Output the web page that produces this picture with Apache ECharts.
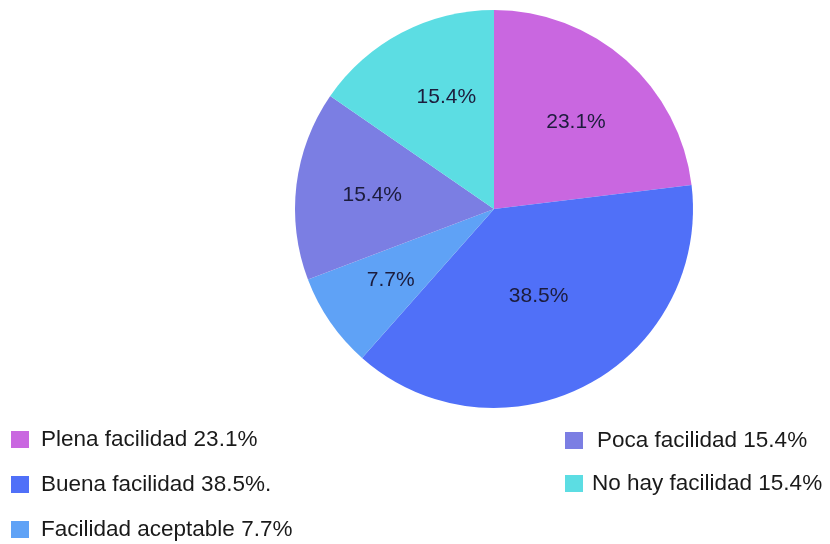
<!DOCTYPE html>
<html>
<head>
<meta charset="utf-8">
<script src="https://cdn.jsdelivr.net/npm/echarts@6/dist/echarts.min.js"></script>
<style>html,body{margin:0;padding:0;background:#fff;}#c{width:830px;height:544px;}</style>
</head>
<body>
<div id="c"></div>
<script>
const categories = ["Plena facilidad 23.1%", "Buena facilidad 38.5%.", "Facilidad aceptable 7.7%", "Poca facilidad 15.4%", "No hay facilidad 15.4%"];
const values = [23.1, 38.5, 7.7, 15.4, 15.4];
const colors = ["#C967E0", "#5070F8", "#5FA2F6", "#7B7EE3", "#5CDDE3"];
const labelNudge = [[14, -10], [-3, -4], [-19, 13], [-20, -1], [0, -21]];

const chart = echarts.init(document.getElementById('c'));
const font = 'Liberation Sans, Arial, sans-serif';
chart.setOption({
  animation: false,
  color: colors,
  legend: [
    {
      orient: 'vertical', left: 11, top: 428, height: 115, padding: 0,
      itemWidth: 18, itemHeight: 17, itemGap: 22,
      icon: 'rect',
      data: categories.slice(0, 3),
      textStyle: { fontSize: 22.5, color: '#1a1a1a', fontFamily: font, padding: [0, 0, 0, 7] }
    },
    {
      orient: 'vertical', left: 565, top: 429, height: 115, padding: 0,
      itemWidth: 18, itemHeight: 17, itemGap: 20,
      icon: 'rect',
      data: [
        { name: categories[3] },
        { name: categories[4], textStyle: { padding: [0, 0, 0, 4] } }
      ],
      textStyle: { fontSize: 22.5, color: '#1a1a1a', fontFamily: font, padding: [0, 0, 0, 9] }
    }
  ],
  series: [{
    type: 'pie',
    center: [494, 209],
    radius: [0, 199],
    startAngle: 90,
    clockwise: true,
    label: {
      position: 'inside',
      formatter: p => p.value.toFixed(1) + '%',
      fontSize: 21, color: '#1c1c3c', fontFamily: font
    },
    labelLine: { show: false },
    itemStyle: { borderWidth: 0 },
    emphasis: { disabled: true },
    data: categories.map((name, i) => ({
      name, value: values[i],
      label: { offset: labelNudge[i] }
    }))
  }]
});
</script>
</body>
</html>
